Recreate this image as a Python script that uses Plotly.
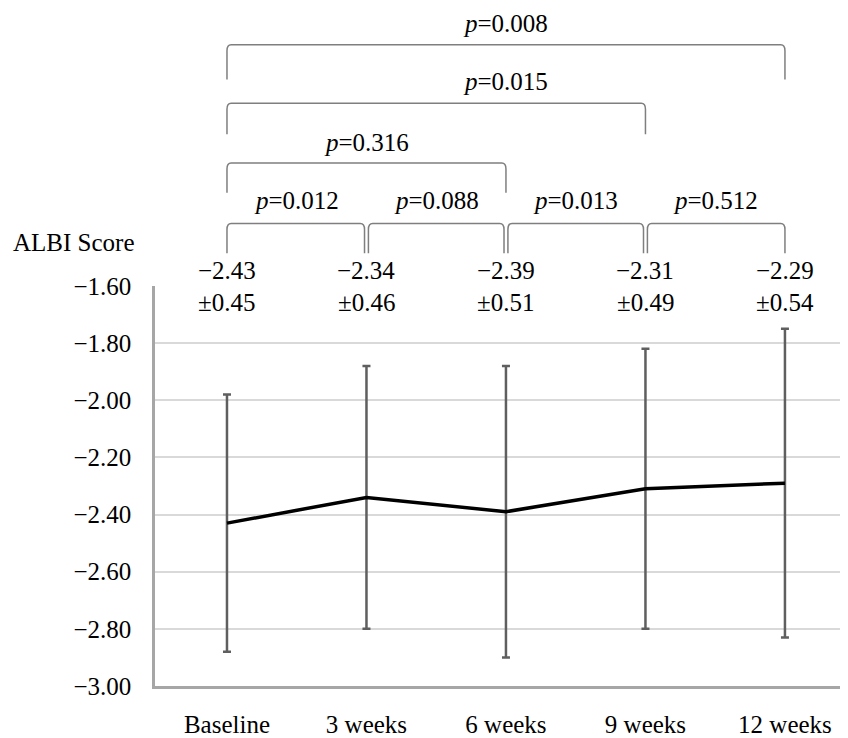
import plotly.graph_objects as go

categories = ["Baseline", "3 weeks", "6 weeks", "9 weeks", "12 weeks"]
means = [-2.43, -2.34, -2.39, -2.31, -2.29]
sds = [0.45, 0.46, 0.51, 0.49, 0.54]
y_ticks = [-3.0, -2.8, -2.6, -2.4, -2.2, -2.0, -1.8, -1.6]
# comparisons: (start index, end index, p label, bracket level, label x position)
comparisons = [
    (0, 1, "0.012", 1, 0.5),
    (1, 2, "0.088", 1, 1.5),
    (2, 3, "0.013", 1, 2.5),
    (3, 4, "0.512", 1, 3.5),
    (0, 2, "0.316", 2, 1.0),
    (0, 3, "0.015", 3, 2.0),
    (0, 4, "0.008", 4, 2.0),
]

OFF = 8  # page body margin
W, H = 848 - OFF, 738 - OFF
L = 155 - OFF
T = 286 - OFF
B = 49
FONT = "Liberation Serif"
FS = 25


def py(p):
    """page pixel y (from top) -> paper y"""
    f = p - OFF
    return (H - B - f) / (H - T - B)


def px(p):
    f = p - OFF
    return (f - L) / (W - L)


def fmt(v):
    s = f"{abs(v):.2f}"
    return ("\u2212" + s) if v < 0 else s


xs = list(range(len(categories)))

fig = go.Figure()
fig.add_trace(go.Scatter(
    x=xs, y=means, mode="lines",
    line=dict(color="black", width=3.5),
    error_y=dict(type="data", array=sds, visible=True,
                 color="#5f5f5f", thickness=2.5, width=4),
    showlegend=False, hoverinfo="skip",
))

shapes = []
annotations = []

# bracket levels: (top pixel, bottom pixel, text pixel)
levels = {1: (223, 253, 200), 2: (162, 192, 141), 3: (102, 133, 80), 4: (43, 78, 22)}
gap = 0.014
for (i0, i1, plab, lev, tx) in comparisons:
    top, bot, typ = levels[lev]
    x0 = xs[i0] + (gap if (lev == 1 and i0 > 0) else 0)
    x1 = xs[i1] - (gap if (lev == 1 and i1 < len(xs) - 1) else 0)
    yt, yb = py(top), py(bot)
    r = py(top) - py(top + 6)
    dx = 0.03
    path = (f"M {x0},{yb} L {x0},{yt - r} Q {x0},{yt} {x0 + dx},{yt} "
            f"L {x1 - dx},{yt} Q {x1},{yt} {x1},{yt - r} L {x1},{yb}")
    shapes.append(dict(type="path", path=path, xref="x", yref="paper",
                       line=dict(color="#7f7f7f", width=1.5)))
    annotations.append(dict(x=tx, y=py(typ), xref="x", yref="paper",
                            text=f"<i>p</i>={plab}", showarrow=False,
                            font=dict(family=FONT, size=FS, color="black"),
                            xanchor="center", yanchor="middle"))

# mean ± sd labels
for x, m, s in zip(xs, means, sds):
    annotations.append(dict(x=x, y=py(270), xref="x", yref="paper",
                            text=fmt(m), showarrow=False,
                            font=dict(family=FONT, size=FS, color="black"),
                            xanchor="center", yanchor="middle"))
    annotations.append(dict(x=x, y=py(303), xref="x", yref="paper",
                            text=f"\u00b1{s:.2f}", showarrow=False,
                            font=dict(family=FONT, size=FS, color="black"),
                            xanchor="center", yanchor="middle"))

annotations.append(dict(x=px(137), y=py(242), xref="paper", yref="paper",
                        text="ALBI Score", showarrow=False,
                        font=dict(family=FONT, size=FS, color="black"),
                        xanchor="right", yanchor="middle"))

fig.update_layout(
    width=W, height=H,
    margin=dict(l=L, r=0, t=T, b=B, pad=0),
    paper_bgcolor="white", plot_bgcolor="white",
    font=dict(family=FONT, size=FS, color="black"),
    shapes=shapes, annotations=annotations,
    xaxis=dict(range=[-0.516, 4.452], tickvals=xs, ticktext=categories,
               showgrid=False, zeroline=False, showline=True,
               linecolor="#a6a6a6", linewidth=2.5,
               ticks="outside", ticklen=14, tickcolor="rgba(0,0,0,0)",
               tickfont=dict(family=FONT, size=FS, color="black")),
    yaxis=dict(range=[-3.0, -1.6], tickvals=y_ticks,
               ticktext=[fmt(v) for v in y_ticks],
               showgrid=True, gridcolor="#d9d9d9", gridwidth=2,
               zeroline=False, showline=True,
               linecolor="#a6a6a6", linewidth=2.5,
               ticks="outside", ticklen=16, tickcolor="rgba(0,0,0,0)",
               tickfont=dict(family=FONT, size=FS, color="black")),
)

fig.write_html("out.html")
